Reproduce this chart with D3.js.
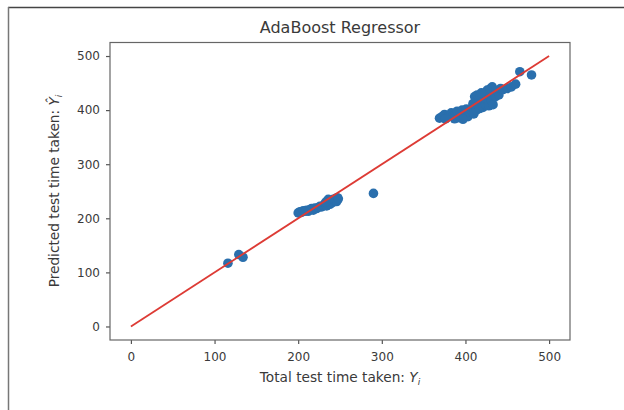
<!DOCTYPE html>
<html>
<head>
<meta charset="utf-8">
<script src="https://cdn.jsdelivr.net/npm/d3@7"></script>
<style>
  body { margin: 0; background: #fff; }
  text { font-family: "DejaVu Sans", sans-serif; fill: #3a3a3a; }
</style>
</head>
<body>
<svg id="chart"></svg>
<script>
const width = 624;
const height = 410;

const lowGroup = [[116, 117], [129, 133], [134, 128]];
const midGroup = [
  [200, 210], [202, 212], [204, 211], [206, 214], [208, 213], [210, 215], [212, 213],
  [214, 216], [216, 218], [218, 215], [220, 219], [222, 218], [224, 220], [226, 222],
  [228, 221], [230, 224], [232, 226], [234, 223], [235, 228], [237, 230], [238, 226],
  [240, 232], [241, 229], [242, 235], [244, 233], [245, 237], [246, 231], [247, 238],
  [248, 236], [236, 235], [233, 230]
];
const outliers = [[290, 246]];
const highGroup = [
  [369, 385], [372, 388], [375, 392], [378, 386], [380, 390], [383, 395], [385, 388],
  [388, 392], [390, 398], [392, 386], [394, 393], [396, 400], [398, 390], [400, 395],
  [401, 402], [403, 388], [405, 397], [407, 400], [408, 405], [410, 393], [411, 425],
  [413, 400], [414, 428], [415, 410], [417, 403], [418, 425], [420, 415], [421, 405],
  [422, 430], [424, 410], [425, 420], [427, 428], [428, 408], [430, 440], [431, 418],
  [433, 410], [434, 432], [436, 425], [438, 435], [440, 428], [442, 440], [445, 438],
  [450, 440], [455, 443], [460, 448], [465, 471], [479, 465], [432, 443], [426, 437],
  [419, 432], [409, 412], [397, 383], [387, 384], [376, 384]
];
const idealLine = [[0, 0], [500, 500]];
const ticks = [0, 100, 200, 300, 400, 500];

const points = lowGroup.concat(midGroup, outliers, highGroup);

const svg = d3.select('#chart').attr('width', width).attr('height', height);

// frame of the screenshot
svg.append('line').attr('x1', 8).attr('x2', width).attr('y1', 7.5).attr('y2', 7.5)
  .attr('stroke', '#444').attr('stroke-width', 1.5);
svg.append('line').attr('x1', 8.5).attr('x2', 8.5).attr('y1', 7).attr('y2', height)
  .attr('stroke', '#777').attr('stroke-width', 1.5);

const x = d3.scaleLinear().domain([-25, 525]).range([110, 570]);
const y = d3.scaleLinear().domain([-25, 525]).range([340, 42.5]);

const xAxis = svg.append('g')
  .attr('transform', 'translate(0,340)')
  .call(d3.axisBottom(x).tickValues(ticks).tickSize(4).tickPadding(8));
const yAxis = svg.append('g')
  .attr('transform', 'translate(110,0)')
  .call(d3.axisLeft(y).tickValues(ticks).tickSize(4).tickPadding(6));

[xAxis, yAxis].forEach(a => {
  a.select('.domain').remove();
  a.selectAll('line').attr('stroke', '#555').attr('stroke-width', 1.2);
  a.selectAll('text').style('font-size', '12px').attr('fill', '#3a3a3a');
});

// scatter
svg.append('g').selectAll('circle')
  .data(points)
  .enter()
  .append('circle')
  .attr('cx', d => x(d[0]))
  .attr('cy', d => y(d[1]))
  .attr('r', 4.8)
  .attr('fill', '#2a6fad');

// perfect prediction line
svg.append('path')
  .datum(idealLine)
  .attr('d', d3.line().x(d => x(d[0])).y(d => y(d[1])))
  .attr('fill', 'none')
  .attr('stroke', '#dd3b35')
  .attr('stroke-width', 1.8);

// axes box
svg.append('rect')
  .attr('x', 110).attr('y', 42.5)
  .attr('width', 460).attr('height', 297.5)
  .attr('fill', 'none')
  .attr('stroke', '#666')
  .attr('stroke-width', 1.2);

svg.append('text')
  .attr('x', 340).attr('y', 32.5)
  .attr('text-anchor', 'middle')
  .style('font-size', '16px')
  .text('AdaBoost Regressor');

const xl = svg.append('text')
  .attr('x', 340).attr('y', 381.5)
  .attr('text-anchor', 'middle')
  .style('font-size', '13.7px')
  .text('Total test time taken: ');
xl.append('tspan').style('font-style', 'italic').text('Y');
xl.append('tspan').attr('dy', 3).style('font-size', '9px').style('font-style', 'italic').text('i');

const yl = svg.append('text')
  .attr('transform', 'translate(59,191) rotate(-90)')
  .attr('text-anchor', 'middle')
  .style('font-size', '13.7px')
  .text('Predicted test time taken: ');
yl.append('tspan').style('font-style', 'italic').text('Ŷ');
yl.append('tspan').attr('dy', 3).style('font-size', '9px').style('font-style', 'italic').text('i');
</script>
</body>
</html>
